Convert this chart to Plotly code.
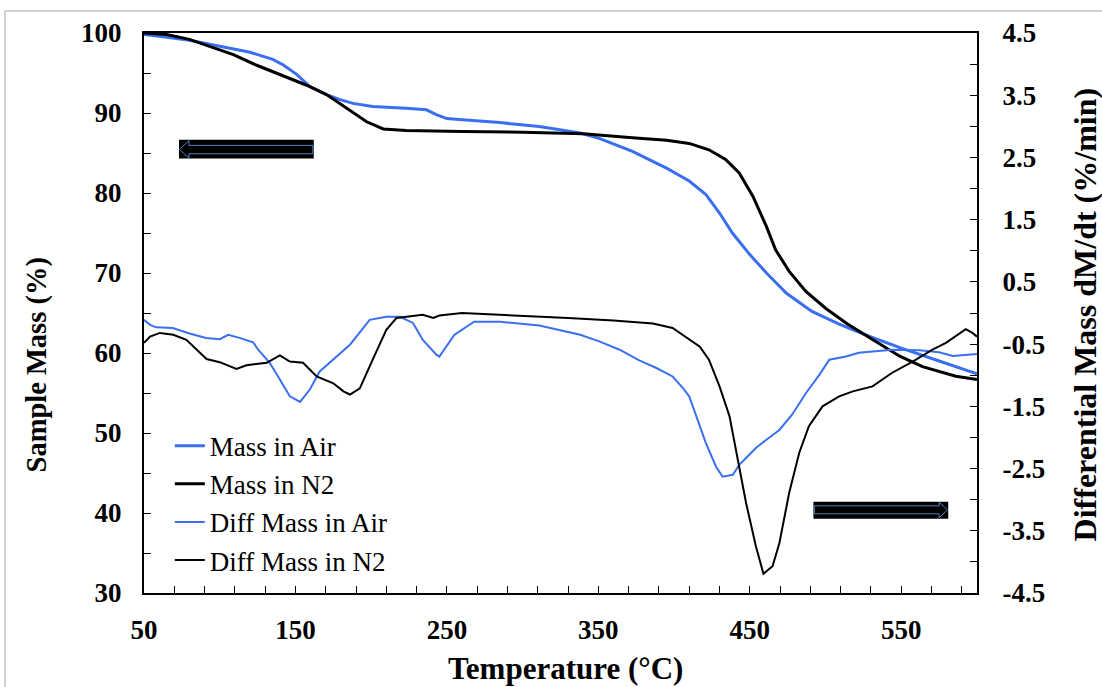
import plotly.graph_objects as go

# ---- TGA data: sample mass (%) vs temperature (°C) ----
temp_mass_air = [50, 60, 80, 102, 120, 135, 142, 151, 159.5, 170.5, 179, 188, 201, 223, 236.5,
                 243, 250, 258, 285, 311, 338, 351, 372.5, 395, 410, 421, 430, 438.5, 450,
                 461, 474, 491, 509, 530, 550, 575, 600]
mass_air = [99.8, 99.6, 99.1, 98.3, 97.6, 96.7, 96.0, 94.8, 93.3, 92.3, 91.7, 91.2, 90.8, 90.6, 90.4,
            89.8, 89.3, 89.2, 88.8, 88.3, 87.5, 86.8, 85.2, 83.1, 81.5, 79.8, 77.5, 75.0, 72.3,
            70.0, 67.5, 65.2, 63.6, 62.0, 60.6, 59.0, 57.4]

temp_mass_n2 = [50, 65, 80, 91, 109, 124, 140, 157, 170.5, 183.5, 197, 208, 223, 260, 300, 340,
                351, 372.5, 395, 410, 423, 434, 443, 452, 461, 467, 476, 487, 500, 514, 531,
                549, 564, 586, 600]
mass_n2 = [100.0, 99.8, 99.2, 98.5, 97.3, 96.0, 94.8, 93.5, 92.3, 90.6, 88.9, 88.0, 87.8, 87.7, 87.6, 87.4,
           87.2, 86.9, 86.6, 86.2, 85.4, 84.2, 82.5, 79.6, 75.8, 72.9, 70.2, 67.7, 65.6, 63.7, 61.7,
           59.6, 58.3, 57.1, 56.7]

# ---- DTG data: differential mass dM/dt (%/min) vs temperature (°C) ----
temp_diff_air = [50, 54, 58, 69, 80, 91, 100, 105.6, 113, 122, 125.4, 133, 139.7, 146.3, 153,
                 159.5, 166, 175, 186, 199, 210, 219, 227.6, 234, 243, 245, 255, 268, 285, 311,
                 324, 338, 351, 364, 377, 388, 399, 406, 410, 414.6, 421, 427.7, 432, 438.8,
                 443, 447.5, 454, 460.7, 469.5, 478, 487, 496, 502.5, 513.5, 522, 531, 544,
                 562, 575, 584, 600]
diff_air = [-0.11, -0.19, -0.23, -0.24, -0.33, -0.40, -0.42, -0.35, -0.40, -0.47, -0.59, -0.80, -1.07, -1.34, -1.43,
            -1.23, -0.94, -0.75, -0.51, -0.11, -0.06, -0.06, -0.16, -0.43, -0.67, -0.70, -0.35, -0.14, -0.14, -0.20,
            -0.27, -0.35, -0.46, -0.59, -0.76, -0.88, -1.02, -1.21, -1.34, -1.66, -2.09, -2.47, -2.63, -2.60,
            -2.44, -2.33, -2.17, -2.04, -1.88, -1.63, -1.29, -0.99, -0.75, -0.70, -0.64, -0.62, -0.59,
            -0.60, -0.63, -0.69, -0.66]

temp_diff_n2 = [50, 54, 60.5, 69.3, 78, 84.6, 91.3, 100, 111, 117.7, 131, 139.7, 146.3, 155, 164,
                175, 181.7, 186, 192.5, 201, 210, 216.7, 223, 234, 241, 245, 260, 280, 300, 330,
                360, 377, 386, 399, 410, 417, 423, 430, 436.6, 443, 447.5, 454, 459, 465, 469.5,
                476, 482.6, 489, 498, 509, 518, 531, 544, 557.5, 570.6, 579.5, 592.6, 597, 600]
diff_n2 = [-0.48, -0.38, -0.32, -0.35, -0.43, -0.59, -0.74, -0.79, -0.90, -0.84, -0.80, -0.68, -0.78, -0.80, -1.02,
           -1.13, -1.26, -1.31, -1.21, -0.75, -0.27, -0.08, -0.06, -0.03, -0.08, -0.04, 0.00, -0.02, -0.05, -0.08,
           -0.12, -0.16, -0.17, -0.24, -0.43, -0.54, -0.75, -1.18, -1.66, -2.47, -3.05, -3.75, -4.19, -4.07, -3.70,
           -2.89, -2.25, -1.82, -1.50, -1.34, -1.26, -1.18, -0.96, -0.78, -0.59, -0.48, -0.26, -0.32, -0.38]

# Right-axis tick values, labelled with a plain hyphen for negatives
diff_ticks = [-4.5, -3.5, -2.5, -1.5, -0.5, 0.5, 1.5, 2.5, 3.5, 4.5]
diff_tick_labels = ["-4.5", "-3.5", "-2.5", "-1.5", "-0.5", "0.5", "1.5", "2.5", "3.5", "4.5"]

BLUE = "#3a6ff0"
SERIF = "Liberation Serif"

fig = go.Figure()
fig.add_trace(go.Scatter(x=temp_mass_air, y=mass_air, name="Mass in Air", mode="lines",
                         line=dict(color=BLUE, width=3)))
fig.add_trace(go.Scatter(x=temp_mass_n2, y=mass_n2, name="Mass in N2", mode="lines",
                         line=dict(color="black", width=3)))
fig.add_trace(go.Scatter(x=temp_diff_air, y=diff_air, name="Diff Mass in Air", mode="lines",
                         line=dict(color=BLUE, width=2), yaxis="y2"))
fig.add_trace(go.Scatter(x=temp_diff_n2, y=diff_n2, name="Diff Mass in N2", mode="lines",
                         line=dict(color="black", width=2), yaxis="y2"))

# Direction arrows: which axis each curve family belongs to
ARROW_OUTLINE = "#4f81bd"
left_box = dict(x0=73.1, x1=162.1, y0=84.3, y1=86.66)
left_arrow = "M 73.4 85.45 L 79.7 86.54 L 79.7 85.95 L 161.5 85.95 L 161.5 84.91 L 79.7 84.91 L 79.7 84.35 Z"
right_box = dict(x0=492.0, x1=581.0, y0=39.29, y1=41.41)
right_arrow = "M 580.5 40.38 L 575.0 41.35 L 575.0 40.9 L 492.6 40.9 L 492.6 39.9 L 575.0 39.9 L 575.0 39.41 Z"

shapes = [
    # outer chart-area border
    dict(type="rect", xref="paper", yref="paper", x0=-0.1669, x1=1.3, y0=-0.3, y1=1.0393,
         line=dict(color="#a6a6a6", width=1), fillcolor="rgba(0,0,0,0)", layer="below"),
    dict(type="rect", xref="x", yref="y", fillcolor="black", line=dict(width=0), **left_box),
    dict(type="path", xref="x", yref="y", path=left_arrow, fillcolor="black",
         line=dict(color=ARROW_OUTLINE, width=1)),
    dict(type="rect", xref="x", yref="y", fillcolor="black", line=dict(width=0), **right_box),
    dict(type="path", xref="x", yref="y", path=right_arrow, fillcolor="black",
         line=dict(color=ARROW_OUTLINE, width=1)),
]

tick_font = dict(family=SERIF, size=27, color="black", weight="bold")
title_font = dict(family=SERIF, size=31, color="black", weight="bold")

fig.update_layout(
    template="none",
    width=1102, height=687,
    margin=dict(l=144, r=125, t=33, b=94),
    paper_bgcolor="white", plot_bgcolor="white",
    showlegend=True,
    legend=dict(x=0.031, y=0.306, xanchor="left", yanchor="top",
                font=dict(family=SERIF, size=27, color="black"),
                bgcolor="rgba(0,0,0,0)", borderwidth=0, tracegroupgap=0),
    xaxis=dict(range=[50, 600], tick0=50, dtick=100, ticks="inside", ticklen=7, tickwidth=1.2,
               tickcolor="black", showline=True, linecolor="black", linewidth=2, mirror=True,
               showgrid=False, zeroline=False, tickfont=tick_font, ticklabelstandoff=12,
               minor=dict(tick0=50, dtick=20, ticks="inside", ticklen=7, tickwidth=1.2,
                          tickcolor="black", showgrid=False),
               automargin=False),
    yaxis=dict(range=[30, 100], tick0=30, dtick=10, ticks="inside", ticklen=7, tickwidth=1.2,
               tickcolor="black", showline=True, linecolor="black", linewidth=2,
               showgrid=False, zeroline=False, tickfont=tick_font, ticklabelstandoff=15,
               minor=dict(dtick=5, ticks="inside", ticklen=7, tickwidth=1.2, tickcolor="black",
                          showgrid=False),
               automargin=False),
    yaxis2=dict(range=[-4.5, 4.5], overlaying="y", side="right",
                tickmode="array", tickvals=diff_ticks, ticktext=diff_tick_labels,
                ticks="inside", ticklen=7, tickwidth=1.2, tickcolor="black", showline=True,
                linecolor="black", linewidth=2, showgrid=False, zeroline=False,
                tickfont=tick_font, ticklabelstandoff=18,
                minor=dict(tick0=-4.5, dtick=0.5, ticks="inside", ticklen=7, tickwidth=1.2,
                           tickcolor="black", showgrid=False),
                automargin=False),
    shapes=shapes,
    annotations=[
        dict(text="Temperature (°C)", xref="paper", yref="paper", x=0.506, y=-0.1,
             xanchor="center", yanchor="top", showarrow=False, font=title_font),
        dict(text="Sample Mass (%)", xref="paper", yref="paper", x=-0.128, y=0.407,
             xanchor="center", yanchor="middle", textangle=-90, showarrow=False,
             font=dict(family=SERIF, size=28.5, color="black", weight="bold")),
        dict(text="Differential Mass dM/dt (%/min)", xref="paper", yref="paper", x=1.13, y=0.498,
             xanchor="center", yanchor="middle", textangle=-90, showarrow=False,
             font=dict(family=SERIF, size=32, color="black", weight="bold")),
    ],
)

fig.write_html("out.html")
